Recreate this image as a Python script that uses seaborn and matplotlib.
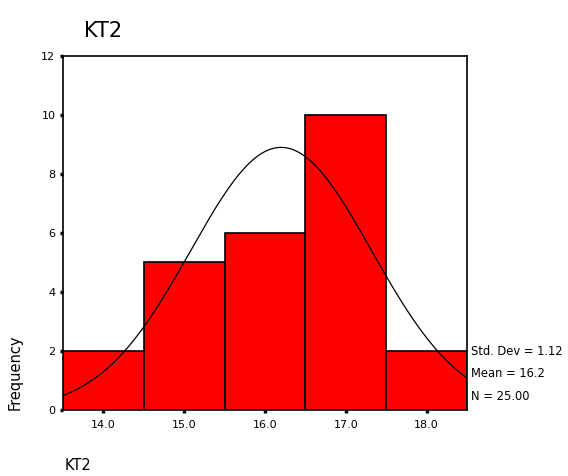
import numpy as np
import pandas as pd
import matplotlib
matplotlib.use("Agg")
import matplotlib.pyplot as plt
import seaborn as sns

bin_centers = [14.0, 15.0, 16.0, 17.0, 18.0]
counts = [2, 5, 6, 10, 2]
std_dev = 1.12
mean = 16.2
n_total = 25
x_ticks = [14.0, 15.0, 16.0, 17.0, 18.0]
y_ticks = [0, 2, 4, 6, 8, 10, 12]

sns.set_style("white")
plt.rcParams['font.family'] = ['DejaVu Sans']
plt.rcParams['text.color'] = 'black'
plt.rcParams['xtick.color'] = 'black'
plt.rcParams['ytick.color'] = 'black'

df = pd.DataFrame({"KT2": bin_centers, "w": counts})
edges = [c - 0.5 for c in bin_centers] + [bin_centers[-1] + 0.5]

fig = plt.figure(figsize=(5.68, 4.76), dpi=100)
ax = fig.add_axes([0.111, 0.139, 0.711, 0.743])
sns.histplot(data=df, x="KT2", weights="w", bins=edges, ax=ax,
             color="#ff0000", alpha=1, edgecolor="black", linewidth=1.2)

xs = np.linspace(edges[0], edges[-1], 300)
ys = n_total * 1.0 / (std_dev * np.sqrt(2 * np.pi)) * np.exp(-0.5 * ((xs - mean) / std_dev) ** 2)
sns.lineplot(x=xs, y=ys, ax=ax, color="black", linewidth=0.9)

ax.set_xlim(edges[0], edges[-1])
ax.set_ylim(0, 12)
ax.set_xticks(x_ticks)
ax.set_xticklabels([f"{v:.1f}" for v in x_ticks], fontsize=8)
ax.set_yticks(y_ticks)
ax.set_yticklabels([str(v) for v in y_ticks], fontsize=8)
ax.tick_params(axis="both", direction="out", length=2.5, width=2.5,
               color="black", labelcolor="black", bottom=True, left=True)
ax.tick_params(axis="x", pad=5)
ax.tick_params(axis="y", pad=3)
for s in ax.spines.values():
    s.set_color("black")
    s.set_linewidth(1.2)
ax.set_xlabel("")
ax.set_ylabel("")

fig.text(0.148, 0.935, "KT2", fontsize=15, ha="left", va="center", color="black")
fig.text(0.027, 0.139, "Frequency", fontsize=10.5, rotation=90, ha="center", va="bottom", color="black")
fig.text(0.113, 0.023, "KT2", fontsize=10.5, ha="left", va="center", color="black")

stats = [f"Std. Dev = {std_dev:.2f}", f"Mean = {mean:.1f}", f"N = {n_total:.2f}"]
for i, t in enumerate(stats):
    fig.text(0.829, 0.262 - i * 0.047, t, fontsize=8.3, ha="left", va="center", color="black")

fig.savefig("out.png", dpi=100)
